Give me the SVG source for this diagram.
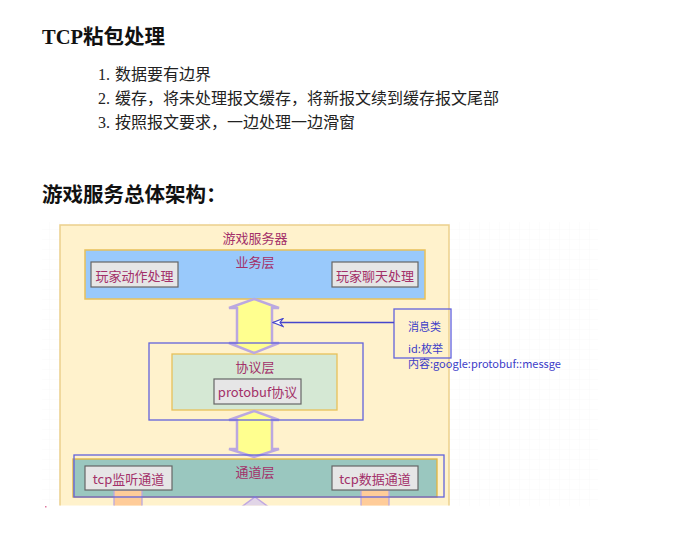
<svg xmlns="http://www.w3.org/2000/svg" width="685" height="546" viewBox="0 0 685 546">
<style>
.h{font-family:"Liberation Serif","Noto Sans CJK SC",serif;font-weight:bold;font-size:20.5px;fill:#111}
.li{font-family:"Liberation Serif","Noto Sans CJK SC",serif;font-size:16px;fill:#222}
.t{font-family:"Noto Sans CJK SC","Noto Sans",sans-serif;font-size:13px;fill:#a33069;text-anchor:middle}
.m{font-family:"Noto Sans CJK SC","Noto Sans",sans-serif;font-size:11px;fill:#3c3cc8}
.box{fill:#e6e6e6;stroke:#666;stroke-width:1.2}
.dbl{fill:#ffff8f;stroke:#bba8e0;stroke-width:2.5;stroke-linejoin:miter}
.blue{fill:none;stroke:#6262dc;stroke-width:1.3}
</style>
<defs>
<pattern id="grid" width="10" height="10" patternUnits="userSpaceOnUse">
<path d="M10 0V10M0 10H10" fill="none" stroke="#f8f8f8" stroke-width="1"/>
</pattern>
<clipPath id="cut"><rect x="0" y="0" width="685" height="505.5"/></clipPath>
<marker id="open" markerWidth="12" markerHeight="10" refX="11" refY="5" orient="auto" markerUnits="userSpaceOnUse">
<path d="M11 5L1 1L4 5L1 9Z" fill="#fff" stroke="#4646cc" stroke-width="1.2"/>
</marker>
</defs>
<rect width="685" height="546" fill="#fff"/>
<text class="h" x="42" y="44">TCP粘包处理</text>
<text class="li" x="98" y="80">1.</text><text class="li" x="115" y="80">数据要有边界</text>
<text class="li" x="98" y="104">2.</text><text class="li" x="115" y="104">缓存，将未处理报文缓存，将新报文续到缓存报文尾部</text>
<text class="li" x="98" y="128">3.</text><text class="li" x="115" y="128">按照报文要求，一边处理一边滑窗</text>
<text class="h" x="42" y="202">游戏服务总体架构：</text>
<rect x="42" y="222" width="556" height="284" fill="url(#grid)"/>
<g clip-path="url(#cut)">
<g id="server">
<rect x="60" y="225" width="389" height="290" fill="#fff2cc" stroke="#ecd08c" stroke-width="1.5"/>
<text class="t" x="255" y="243">游戏服务器</text>
</g>
<g id="business">
<rect x="85" y="250" width="340" height="49" fill="#99c9fb" stroke="#e8c05a" stroke-width="1.5"/>
<text class="t" x="255" y="267">业务层</text>
</g>
<g id="action"><rect class="box" x="91" y="262" width="87" height="25"/><text class="t" x="134.5" y="281">玩家动作处理</text></g>
<g id="chat"><rect class="box" x="332" y="262" width="86" height="25"/><text class="t" x="375" y="281">玩家聊天处理</text></g>
<g id="protocol">
<rect x="172" y="354" width="165" height="56" fill="#d5e8d4" stroke="#e8c05a" stroke-width="1.3"/>
<text class="t" x="255" y="372">协议层</text>
</g>
<g id="protobuf"><rect class="box" x="214" y="379" width="87" height="25"/><text class="t" x="257.5" y="397">protobuf协议</text></g>
<g id="channel">
<rect x="73" y="459" width="364" height="38" fill="#9ac7bf" stroke="#e0b440" stroke-width="1.3"/>
<text class="t" x="255" y="477">通道层</text>
</g>
<g id="below">
<rect x="114" y="490" width="28" height="20" fill="#ffcc99" stroke="#bba8e0" stroke-width="1.3"/>
<rect x="361" y="490" width="28" height="20" fill="#ffcc99" stroke="#bba8e0" stroke-width="1.3"/>
<polygon points="255,497 270,508 240,508" fill="#e1d5e7" stroke="#c0a8e0" stroke-width="1.5"/>
</g>
<g id="listen"><rect class="box" x="85" y="466" width="87" height="24"/><text class="t" x="128.5" y="484">tcp监听通道</text></g>
<g id="data"><rect class="box" x="332" y="466" width="86" height="24"/><text class="t" x="375" y="484">tcp数据通道</text></g>
</g>
<g id="message">
<rect class="blue" x="394" y="309" width="57" height="49"/>
<text class="m" x="408" y="331">消息类</text>
<text class="m" x="408" y="353">id:枚举</text>
<text class="m" x="408" y="368">内容:google:protobuf::messge</text>
</g>
<g id="connectors">
<polygon class="dbl" points="254,299 279,308 272,308 272,343 279,343 254,353 229,343 237,343 237,308 229,308"/>
<polygon class="dbl" points="254,411 279,420 272,420 272,449 279,449 254,457 229,449 237,449 237,420 229,420"/>
<line x1="394" y1="322.5" x2="273" y2="322.5" stroke="#4646cc" stroke-width="1.5" marker-end="url(#open)"/>
</g>
<g id="frames">
<rect class="blue" x="149" y="343" width="214" height="77"/>
<rect class="blue" x="74" y="455" width="370" height="42"/>
</g>
<rect x="45" y="506" width="1.5" height="1.5" fill="#e07aa0"/>
</svg>
